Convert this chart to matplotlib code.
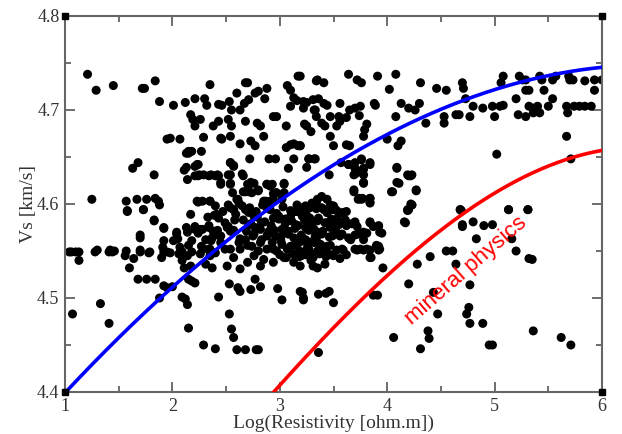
import matplotlib
matplotlib.use("Agg")
import matplotlib.pyplot as plt
import numpy as np
from matplotlib.ticker import MultipleLocator

# ---- scatter data: Log(resistivity) and Vs ----
log_res = [
 1.21,1.29,1.45,1.72,1.74,1.84,1.88,2.01,2.12,2.21,2.30,2.32,2.35,2.43,2.46,2.53,2.55,2.63,2.68,2.70,
 2.67,2.71,2.60,2.77,2.80,2.88,2.86,2.17,2.19,2.21,2.26,2.38,2.43,2.52,2.55,2.68,2.79,2.82,2.94,2.97,
 3.06,3.07,3.10,3.13,3.17,3.16,3.22,3.10,3.25,3.32,3.35,3.34,1.95,1.98,2.07,2.15,2.18,2.27,2.29,2.45,
 2.46,2.54,2.63,2.73,2.77,2.72,2.85,2.90,2.96,3.06,3.10,3.13,3.17,3.19,3.13,3.08,3.27,3.32,1.63,1.68,
 1.83,2.13,2.23,2.14,2.25,2.29,2.36,2.42,2.45,2.54,2.57,2.54,2.54,2.65,2.70,2.73,2.76,2.68,2.71,2.80,
 2.88,2.93,3.04,2.94,1.25,1.57,1.67,1.76,1.84,1.87,1.58,1.73,2.23,2.28,2.35,2.54,2.57,2.61,2.87,2.91,
 # upper right region
 3.19,3.34,3.41,3.64,3.72,3.76,3.91,4.08,4.02,4.31,4.46,4.55,4.70,4.71,4.73,5.06,5.08,5.23,5.26,5.29,
 5.42,5.44,5.54,5.57,5.69,5.70,5.73,5.84,5.93,6.00,5.29,5.32,5.46,5.93,5.20,5.54,5.32,5.36,5.40,5.50,
 5.67,5.74,5.79,5.84,5.90,5.22,5.29,5.36,5.42,5.68,4.80,4.89,4.98,5.05,5.08,4.64,4.67,4.77,5.00,4.53,
 4.53,4.36,4.13,4.20,4.26,4.30,4.08,3.88,3.89,3.75,3.70,3.65,3.56,3.31,3.36,3.41,3.44,3.25,3.22,3.33,
 3.47,3.55,3.62,3.74,3.23,3.29,3.39,3.42,3.53,3.56,3.81,3.79,3.78,3.47,3.50,3.62,3.65,4.00,4.10,4.13,
 3.19,3.27,3.33,3.25,3.57,3.64,3.70,3.76,3.84,3.46,3.70,3.73,3.78,3.78,3.69,3.74,3.77,3.84,3.84,4.09,
 4.09,4.04,4.19,4.23,4.27,4.22,4.19,3.44,5.02,5.67,5.71,4.68,5.13,5.31,
 # lower left region
 1.06,1.13,1.13,1.07,1.30,1.33,1.41,1.42,1.46,1.57,1.56,1.60,1.64,1.70,1.70,1.70,1.68,1.76,1.84,1.78,
 1.83,1.92,1.92,1.91,1.90,1.88,1.92,1.95,2.00,2.04,2.01,2.07,2.06,1.98,2.14,2.18,2.15,2.14,2.09,2.11,
 2.17,2.09,2.12,2.14,2.15,2.17,2.15,2.18,2.21,2.29,2.40,2.26,2.34,2.39,2.42,2.29,2.34,2.35,2.26,2.31,
 2.37,2.43,2.53,2.61,2.63,2.53,2.55,2.57,2.60,2.68,2.78,2.80,2.77,2.82,2.73,2.45,2.51,2.57,2.54,2.57,
 2.51,2.63,2.98,3.02,3.21,3.22,3.36,3.36,
 # lower right region
 4.16,4.19,4.23,3.96,3.87,3.91,4.28,4.20,4.40,4.43,4.47,4.38,4.39,4.31,4.06,4.55,4.61,4.64,4.68,4.70,
 4.80,4.83,4.90,4.98,4.77,4.76,4.74,4.77,4.89,4.95,4.98,5.13,5.16,5.20,5.31,5.32,5.35,5.36,5.62,5.71,
 3.43,3.46,3.50,3.22,3.19,
 # middle right of cluster
 3.64,3.70,3.78,3.84,3.76,3.69,3.78,3.78,3.69,3.73,3.76,3.84,3.84,4.09,4.20,4.22,4.11,4.05,4.27,4.23,
 4.20,4.17,4.69,4.70,3.47,3.52,3.56,3.62,3.53,3.59,3.50,3.70,3.72,3.84,3.87,3.92,3.95,3.81,3.78,3.70,
 3.53,3.59,3.72,3.78,3.84,3.92,3.92,
 # middle of cluster
 2.24,2.34,2.40,2.43,2.24,2.54,2.57,2.52,2.54,2.45,2.66,2.71,2.66,2.74,2.80,2.88,2.91,3.04,2.96,3.04,
 2.24,2.35,2.60,2.62,2.65,2.68,2.71,2.76,2.52,2.57,2.59,2.85,2.94,2.97,3.02,2.41,2.43,2.21,2.28,2.34,
 2.38,2.52,2.54,2.88,2.94,2.99,3.05,3.10,3.15,3.21,3.24,3.30,3.35,3.39,3.39,3.44,3.49,3.21,3.28,3.35,
 3.44,3.47,3.15,3.24,3.32,3.39,3.49,2.71,2.77,2.83,2.90,2.96,3.02,3.08,3.13,2.83,2.93,3.02,3.10,3.18,
 3.24,3.30,3.38,3.44,2.68,2.62,2.63,2.74,2.80,2.88,2.97,3.07,3.18,3.27,3.35,3.44,2.24,2.31,2.37,2.45,
 2.49,2.27,2.35,2.40,
 # dense cluster lower part
 2.63,2.70,2.76,2.82,2.88,2.94,3.01,3.07,3.13,3.19,3.25,3.32,3.35,2.76,2.85,2.94,3.04,3.13,3.19,3.29,
 3.35,2.82,2.70,
 3.20,3.31,3.42,3.56,3.58,3.70,3.73,3.78,3.84,3.92,3.93,3.70,3.75,3.81,3.84,3.90,3.93,3.85,3.25,3.34,
 3.37,3.47,3.50,3.28,3.19,3.25,3.34,3.44,3.53,3.50,3.59,3.62,
 # left extras
 2.04,2.05,2.13,2.21,2.11,2.21,2.21,2.13,2.15,1.92,1.95,2.09,2.18,1.58,1.73,1.88,1.83,1.92,1.04,1.10,
 1.28,1.41,1.44,1.70,1.79,
 # densest core of the cluster
 2.66,2.73,2.79,2.86,2.92,2.99,3.05,3.11,3.17,3.23,3.29,3.36,3.42,3.48,3.55,3.61,3.67,
 2.69,2.75,2.82,2.89,2.95,3.01,3.08,3.14,3.20,3.27,3.33,3.40,3.46,3.52,3.58,3.64,
 2.72,2.78,2.84,2.91,2.97,3.03,3.10,3.16,3.22,3.28,3.34,3.41,3.47,3.54,
 3.00,3.06,3.12,3.18,3.24,3.31,3.37,3.43,3.49,3.56,3.62,3.66,
 2.36,2.44,2.49,2.58,2.47,2.40,2.33,2.56,
]

vs = [
 4.738,4.721,4.726,4.723,4.723,4.731,4.709,4.705,4.708,4.712,4.712,4.705,4.727,4.706,4.705,4.709,4.700,4.700,4.729,4.729,
 4.707,4.711,4.718,4.718,4.720,4.723,4.712,4.695,4.690,4.683,4.690,4.683,4.688,4.690,4.683,4.688,4.686,4.683,4.693,4.693,
 4.683,4.726,4.721,4.713,4.736,4.710,4.709,4.704,4.683,4.700,4.732,4.693,4.669,4.670,4.669,4.656,4.656,4.656,4.671,4.670,
 4.669,4.672,4.664,4.667,4.662,4.648,4.672,4.648,4.648,4.660,4.663,4.664,4.662,4.662,4.648,4.638,4.648,4.648,4.638,4.644,
 4.631,4.639,4.642,4.626,4.631,4.631,4.631,4.631,4.623,4.644,4.641,4.631,4.622,4.632,4.621,4.623,4.622,4.613,4.613,4.615,
 4.621,4.621,4.622,4.611,4.605,4.603,4.605,4.605,4.606,4.603,4.593,4.594,4.603,4.603,4.603,4.596,4.594,4.605,4.603,4.603,
 # upper right region
 4.736,4.731,4.729,4.738,4.732,4.729,4.736,4.738,4.722,4.729,4.723,4.721,4.729,4.723,4.712,4.729,4.736,4.736,4.732,4.732,
 4.736,4.732,4.732,4.736,4.736,4.732,4.732,4.731,4.732,4.732,4.721,4.721,4.721,4.721,4.712,4.712,4.704,4.702,4.704,4.704,
 4.704,4.704,4.704,4.704,4.704,4.695,4.693,4.697,4.697,4.697,4.704,4.702,4.704,4.704,4.705,4.695,4.695,4.693,4.693,4.693,
 4.686,4.686,4.707,4.702,4.700,4.707,4.693,4.707,4.705,4.704,4.702,4.700,4.707,4.711,4.712,4.707,4.705,4.708,4.702,4.700,
 4.693,4.693,4.692,4.694,4.685,4.677,4.686,4.683,4.683,4.688,4.685,4.679,4.672,4.672,4.662,4.663,4.662,4.669,4.662,4.667,
 4.662,4.648,4.648,4.639,4.644,4.642,4.644,4.648,4.644,4.631,4.632,4.634,4.637,4.623,4.615,4.606,4.606,4.606,4.602,4.639,
 4.623,4.613,4.631,4.631,4.615,4.600,4.594,4.605,4.653,4.672,4.648,4.594,4.594,4.594,
 # lower left region
 4.549,4.549,4.540,4.483,4.551,4.494,4.473,4.551,4.550,4.550,4.545,4.532,4.542,4.564,4.567,4.551,4.520,4.520,4.520,4.548,
 4.582,4.575,4.561,4.554,4.543,4.500,4.513,4.511,4.512,4.568,4.561,4.554,4.547,4.548,4.570,4.561,4.556,4.545,4.540,4.532,
 4.534,4.501,4.499,4.493,4.468,4.589,4.520,4.518,4.516,4.450,4.446,4.573,4.577,4.588,4.572,4.552,4.552,4.545,4.547,4.536,
 4.532,4.501,4.515,4.511,4.507,4.483,4.467,4.458,4.445,4.445,4.445,4.445,4.520,4.512,4.509,4.566,4.575,4.572,4.552,4.543,
 4.534,4.531,4.510,4.498,4.506,4.498,4.442,4.504,
 # lower right region
 4.581,4.593,4.599,4.532,4.503,4.503,4.536,4.515,4.544,4.506,4.483,4.465,4.457,4.446,4.458,4.550,4.550,4.536,4.594,4.578,
 4.581,4.563,4.577,4.578,4.514,4.490,4.483,4.473,4.473,4.450,4.450,4.594,4.563,4.550,4.594,4.542,4.541,4.465,4.458,4.450,
 4.505,4.507,4.495,4.500,4.507,
 # middle right of cluster
 4.642,4.638,4.638,4.642,4.647,4.631,4.631,4.622,4.613,4.605,4.605,4.606,4.601,4.638,4.630,4.630,4.622,4.613,4.614,4.599,
 4.594,4.580,4.593,4.576,4.597,4.594,4.590,4.592,4.583,4.581,4.576,4.581,4.576,4.581,4.576,4.576,4.569,4.569,4.562,4.567,
 4.551,4.551,4.551,4.551,4.551,4.555,4.551,
 # middle of cluster
 4.642,4.630,4.630,4.630,4.630,4.644,4.640,4.631,4.621,4.621,4.630,4.620,4.613,4.612,4.614,4.621,4.619,4.621,4.612,4.612,
 4.602,4.603,4.605,4.601,4.598,4.594,4.591,4.587,4.599,4.594,4.589,4.603,4.605,4.612,4.605,4.589,4.585,4.576,4.573,4.575,
 4.571,4.576,4.571,4.596,4.585,4.587,4.584,4.587,4.592,4.596,4.598,4.601,4.605,4.608,4.596,4.591,4.594,4.587,4.585,4.582,
 4.580,4.575,4.578,4.575,4.573,4.568,4.566,4.578,4.575,4.580,4.571,4.566,4.573,4.568,4.564,4.562,4.559,4.557,4.555,4.559,
 4.562,4.560,4.557,4.555,4.562,4.559,4.552,4.555,4.550,4.552,4.550,4.552,4.550,4.552,4.550,4.548,4.569,4.562,4.564,4.559,
 4.552,4.555,4.552,4.548,
 # dense cluster lower part
 4.563,4.556,4.568,4.559,4.566,4.552,4.561,4.570,4.556,4.564,4.552,4.559,4.570,4.545,4.541,4.538,4.543,4.538,4.534,4.540,
 4.532,4.534,4.538,
 4.545,4.534,4.536,4.566,4.552,4.579,4.568,4.570,4.580,4.577,4.570,4.552,4.552,4.552,4.543,4.556,4.552,4.543,4.559,4.563,
 4.552,4.556,4.545,4.548,4.591,4.588,4.595,4.591,4.584,4.598,4.591,4.577,
 # left extras
 4.570,4.563,4.575,4.573,4.636,4.640,4.630,4.654,4.654,4.549,4.549,4.549,4.549,4.592,4.594,4.599,4.583,4.574,4.549,4.549,
 4.549,4.549,4.549,4.549,4.549,
 # densest core of the cluster
 4.583,4.579,4.586,4.581,4.577,4.584,4.579,4.582,4.577,4.583,4.578,4.585,4.580,4.584,4.578,4.583,4.579,
 4.571,4.566,4.573,4.568,4.572,4.565,4.571,4.574,4.567,4.572,4.566,4.571,4.565,4.573,4.568,4.564,
 4.596,4.592,4.599,4.594,4.590,4.597,4.593,4.599,4.591,4.596,4.601,4.594,4.599,4.592,
 4.546,4.543,4.547,4.544,4.546,4.543,4.547,4.544,4.546,4.542,4.546,4.562,
 4.561,4.566,4.580,4.583,4.592,4.598,4.586,4.612,
]

# ---- fitted curve (blue) ----
fit_x = [1.0, 1.5, 2.0, 2.5, 3.0, 3.5, 4.0, 4.5, 5.0, 5.5, 6.0]
fit_y = [4.400, 4.456, 4.511, 4.562, 4.604, 4.642, 4.672, 4.700, 4.723, 4.737, 4.745]

# ---- mineral physics curve (red) ----
mp_x = [2.94, 3.2, 3.5, 3.85, 4.0, 4.3, 4.6, 5.0, 5.3, 5.6, 6.0]
mp_y = [4.400, 4.432, 4.467, 4.509, 4.524, 4.554, 4.581, 4.611, 4.630, 4.645, 4.657]

x_ticks = [1, 2, 3, 4, 5, 6]
y_ticks = [4.4, 4.5, 4.6, 4.7, 4.8]

n = min(len(log_res), len(vs))

fig = plt.figure(figsize=(6.22, 4.34), dpi=100)
ax = fig.add_axes([65/622, 1-392/434, 537/622, 376/434])

ax.scatter(log_res[:n], vs[:n], s=42, color='black', edgecolors='none', zorder=2)

def smooth(xs, ys):
    xx = np.linspace(xs[0], xs[-1], 200)
    c = np.polyfit(xs, ys, 3)
    return xx, np.polyval(c, xx)

bx, by = smooth(fit_x, fit_y)
ax.plot(bx, by, color='#0000ff', lw=2.6, zorder=3)
rx, ry = smooth(mp_x, mp_y)
ax.plot(rx, ry, color='#ff0000', lw=2.6, zorder=3)

ax.text(4.73, 4.529, 'mineral physics', color='red', fontsize=16,
        family='Liberation Sans', rotation=41, ha='center', va='center',
        rotation_mode='anchor', zorder=4)

ax.set_xlim(1, 6)
ax.set_ylim(4.4, 4.8)
ax.set_xticks(x_ticks)
ax.set_xticklabels([str(t) for t in x_ticks])
ax.set_yticks(y_ticks)
ax.set_yticklabels([f"{t:.1f}" for t in y_ticks])
ax.xaxis.set_minor_locator(MultipleLocator(0.5))
ax.yaxis.set_minor_locator(MultipleLocator(0.05))
ax.tick_params(which='both', direction='in', top=True, right=True,
               color='#555555', width=1.2)
ax.tick_params(which='major', length=7, labelsize=13, pad=4)
ax.tick_params(which='minor', length=4)
for lab in ax.get_xticklabels() + ax.get_yticklabels():
    lab.set_family('Liberation Serif')
    lab.set_color('#333333')
for sp in ax.spines.values():
    sp.set_color('#666666')
    sp.set_linewidth(1.5)

ax.set_xlabel('Log(Resistivity [ohm.m])', family='Liberation Serif',
              fontsize=14, color='#333333', labelpad=0)
ax.set_ylabel('Vs [km/s]', family='Liberation Serif', fontsize=14,
              color='#333333', labelpad=0)

# corner handle squares
ax.plot([0, 1, 0, 1], [0, 0, 1, 1], 's', color='black', ms=5,
        transform=ax.transAxes, clip_on=False, zorder=5)

fig.savefig('out.png', dpi=100)
